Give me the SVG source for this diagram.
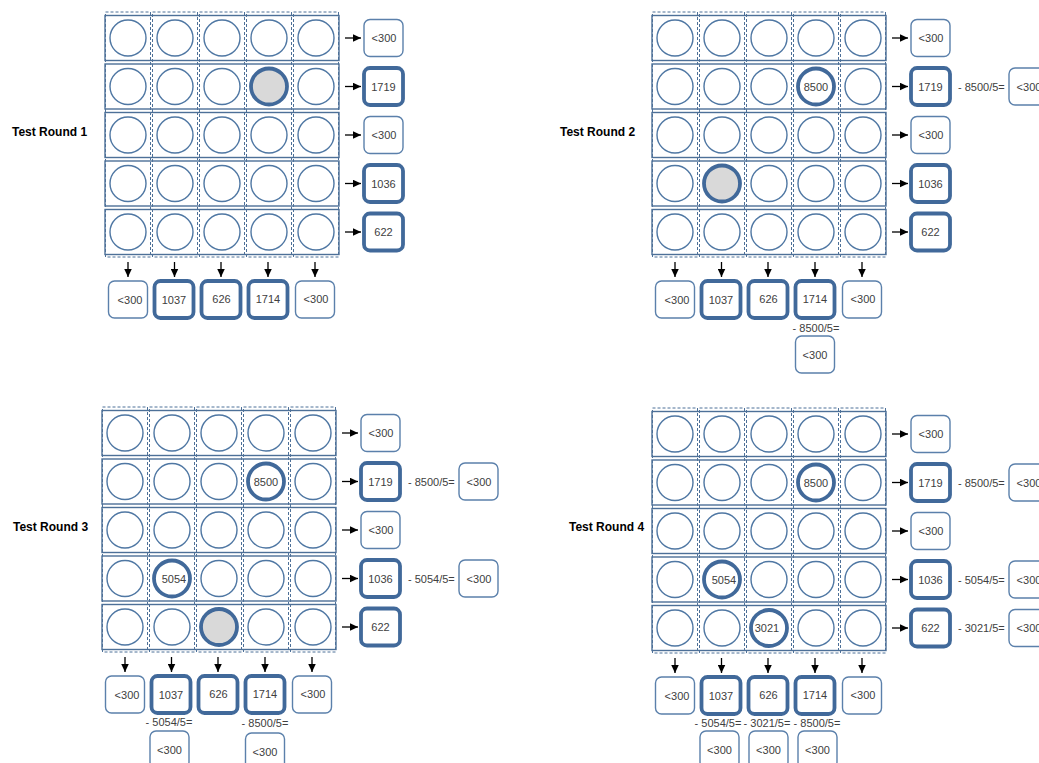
<svg xmlns="http://www.w3.org/2000/svg" xmlns:xlink="http://www.w3.org/1999/xlink" width="1039" height="763" viewBox="0 0 1039 763">
<style>
.row{fill:none;stroke:#4d7098;stroke-width:1.4}
.col{fill:none;stroke:#4d7098;stroke-width:1;stroke-dasharray:3 2}
.c{fill:#fff;stroke:#4f77a3;stroke-width:1.4}
.hc{fill:#fff;stroke:#41699a;stroke-width:3.8}
.hg{fill:#d9d9d9;stroke:#41699a;stroke-width:3.8}
.bx{fill:#fff;stroke:#5b80ab;stroke-width:1.4}
.bb{fill:#fff;stroke:#41699a;stroke-width:3.8}
.t{font-family:"Liberation Sans",Arial,sans-serif;font-size:11px;fill:#404040;text-anchor:middle}
.e{font-family:"Liberation Sans",Arial,sans-serif;font-size:11px;fill:#404040}
.ti{font-family:"Liberation Sans",Arial,sans-serif;font-size:12px;font-weight:bold;fill:#000}
.ar{stroke:#000;stroke-width:1.3;fill:none;marker-end:url(#ah)}
</style>
<defs>
<marker id="ah" markerUnits="userSpaceOnUse" markerWidth="9" markerHeight="8" refX="8.5" refY="4" orient="auto">
<path d="M0,0 L8.5,4 L0,8 z" fill="#000"/>
</marker>
<g id="grid">
<rect class="row" x="105" y="15.5" width="234" height="45"/>
<rect class="row" x="105" y="64" width="234" height="45"/>
<rect class="row" x="105" y="112.5" width="234" height="45"/>
<rect class="row" x="105" y="161" width="234" height="45"/>
<rect class="row" x="105" y="209.5" width="234" height="45"/>
<rect class="col" x="105.5" y="12" width="45" height="245"/>
<rect class="col" x="152.5" y="12" width="45" height="245"/>
<rect class="col" x="199.5" y="12" width="45" height="245"/>
<rect class="col" x="246.5" y="12" width="45" height="245"/>
<rect class="col" x="293.5" y="12" width="45" height="245"/>
<g id="crow">
<circle class="c" cx="128" cy="38" r="18"/>
<circle class="c" cx="175" cy="38" r="18"/>
<circle class="c" cx="222" cy="38" r="18"/>
<circle class="c" cx="269" cy="38" r="18"/>
<circle class="c" cx="316" cy="38" r="18"/>
</g>
<use xlink:href="#crow" href="#crow" y="48.5"/>
<use xlink:href="#crow" href="#crow" y="97"/>
<use xlink:href="#crow" href="#crow" y="145.5"/>
<use xlink:href="#crow" href="#crow" y="194"/>
</g>
<g id="base">
<use xlink:href="#grid" href="#grid"/>
<g id="arrows">
<line class="ar" x1="345" y1="38" x2="361" y2="38"/>
<line class="ar" x1="345" y1="86.5" x2="361" y2="86.5"/>
<line class="ar" x1="345" y1="135" x2="361" y2="135"/>
<line class="ar" x1="345" y1="183.5" x2="361" y2="183.5"/>
<line class="ar" x1="345" y1="232" x2="361" y2="232"/>
<line class="ar" x1="128" y1="262" x2="128" y2="277"/>
<line class="ar" x1="174.5" y1="262" x2="174.5" y2="277"/>
<line class="ar" x1="221" y1="262" x2="221" y2="277"/>
<line class="ar" x1="268" y1="262" x2="268" y2="277"/>
<line class="ar" x1="315" y1="262" x2="315" y2="277"/>
</g>
<g id="rowsums">
<rect class="bx" x="364" y="19.5" width="39" height="37" rx="6"/><text class="t" x="384" y="42">&lt;300</text>
<rect class="bb" x="364" y="68" width="39" height="37" rx="6"/><text class="t" x="383.5" y="90.5">1719</text>
<rect class="bx" x="364" y="116.5" width="39" height="37" rx="6"/><text class="t" x="384" y="139">&lt;300</text>
<rect class="bb" x="364" y="165" width="39" height="37" rx="6"/><text class="t" x="383.5" y="187.5">1036</text>
<rect class="bb" x="364" y="213.5" width="39" height="37" rx="6"/><text class="t" x="383.5" y="236">622</text>
</g>
<g id="colsums">
<rect class="bx" x="108.5" y="281" width="39" height="37" rx="6"/><text class="t" x="130" y="303.5">&lt;300</text>
<rect class="bb" x="154.5" y="281" width="39" height="37" rx="6"/><text class="t" x="174" y="303.5">1037</text>
<rect class="bb" x="201.5" y="281" width="39" height="37" rx="6"/><text class="t" x="221.5" y="303">626</text>
<rect class="bb" x="248.5" y="281" width="39" height="37" rx="6"/><text class="t" x="268" y="303">1714</text>
<rect class="bx" x="295.5" y="281" width="39" height="37" rx="6"/><text class="t" x="316" y="303">&lt;300</text>
</g>
</g>
</defs>

<g id="round1">
<use xlink:href="#base" href="#base"/>
<g id="r1-hit"><circle class="hg" cx="269" cy="86.5" r="18"/></g>
<g id="r1-title"><text class="ti" x="12" y="135.5">Test Round 1</text></g>
</g>

<g id="round2" transform="translate(547,0)">
<use xlink:href="#base" href="#base"/>
<g id="r2-c8500"><circle class="hc" cx="269" cy="86.5" r="18"/><text class="t" x="269" y="90.5">8500</text></g>
<g id="r2-hit"><circle class="hg" cx="175" cy="183.5" r="18"/></g>
<g id="r2-x1"><text class="e" x="411" y="90.5">- 8500/5=</text><rect class="bx" x="462" y="68" width="39" height="37" rx="6"/><text class="t" x="482" y="90.5">&lt;300</text></g>
<g id="r2-x2"><text class="t" x="269" y="332">- 8500/5=</text><rect class="bx" x="248.5" y="336" width="39" height="37" rx="6"/><text class="t" x="268" y="358.5">&lt;300</text></g>
</g>
<g id="r2-title"><text class="ti" x="560" y="135.5">Test Round 2</text></g>

<g id="round3" transform="translate(-3,395)">
<use xlink:href="#base" href="#base"/>
<g id="r3-c8500"><circle class="hc" cx="269" cy="86.5" r="18"/><text class="t" x="269" y="90.5">8500</text></g>
<g id="r3-c5054"><circle class="hc" cx="175" cy="183.5" r="18"/><text class="t" x="177" y="187.5">5054</text></g>
<g id="r3-hit"><circle class="hg" cx="222" cy="232" r="18"/></g>
<g id="r3-x1"><text class="e" x="411" y="90.5">- 8500/5=</text><rect class="bx" x="462" y="68" width="39" height="37" rx="6"/><text class="t" x="482" y="90.5">&lt;300</text></g>
<g id="r3-x2"><text class="e" x="411" y="187.5">- 5054/5=</text><rect class="bx" x="462" y="165" width="39" height="37" rx="6"/><text class="t" x="482" y="187.5">&lt;300</text></g>
<g id="r3-x3"><text class="t" x="172" y="331">- 5054/5=</text><rect class="bx" x="153" y="336" width="39" height="37" rx="6"/><text class="t" x="172.5" y="358.5">&lt;300</text></g>
<g id="r3-x4"><text class="t" x="268" y="332">- 8500/5=</text><rect class="bx" x="248.5" y="338" width="39" height="37" rx="6"/><text class="t" x="268" y="361">&lt;300</text></g>
</g>
<g id="r3-title"><text class="ti" x="13" y="530.5">Test Round 3</text></g>

<g id="round4" transform="translate(547,396)">
<use xlink:href="#base" href="#base"/>
<g id="r4-c8500"><circle class="hc" cx="269" cy="86.5" r="18"/><text class="t" x="269" y="90.5">8500</text></g>
<g id="r4-c5054"><circle class="hc" cx="175" cy="183.5" r="18"/><text class="t" x="177" y="187.5">5054</text></g>
<g id="r4-c3021"><circle class="hc" cx="222" cy="232" r="18"/><text class="t" x="220" y="236">3021</text></g>
<g id="r4-x1"><text class="e" x="411" y="90.5">- 8500/5=</text><rect class="bx" x="462" y="68" width="39" height="37" rx="6"/><text class="t" x="482" y="90.5">&lt;300</text></g>
<g id="r4-x2"><text class="e" x="411" y="187.5">- 5054/5=</text><rect class="bx" x="462" y="165" width="39" height="37" rx="6"/><text class="t" x="482" y="187.5">&lt;300</text></g>
<g id="r4-x3"><text class="e" x="411" y="236">- 3021/5=</text><rect class="bx" x="462" y="213.5" width="39" height="37" rx="6"/><text class="t" x="482" y="236">&lt;300</text></g>
<g id="r4-x4"><text class="t" x="171" y="331">- 5054/5=</text><rect class="bx" x="153" y="335" width="39" height="37" rx="6"/><text class="t" x="172.5" y="357.5">&lt;300</text></g>
<g id="r4-x5"><text class="t" x="220" y="331">- 3021/5=</text><rect class="bx" x="202" y="335" width="39" height="37" rx="6"/><text class="t" x="221.5" y="357.5">&lt;300</text></g>
<g id="r4-x6"><text class="t" x="270" y="331">- 8500/5=</text><rect class="bx" x="251" y="335" width="39" height="37" rx="6"/><text class="t" x="270.5" y="357.5">&lt;300</text></g>
</g>
<g id="r4-title"><text class="ti" x="569" y="530.5">Test Round 4</text></g>
</svg>
